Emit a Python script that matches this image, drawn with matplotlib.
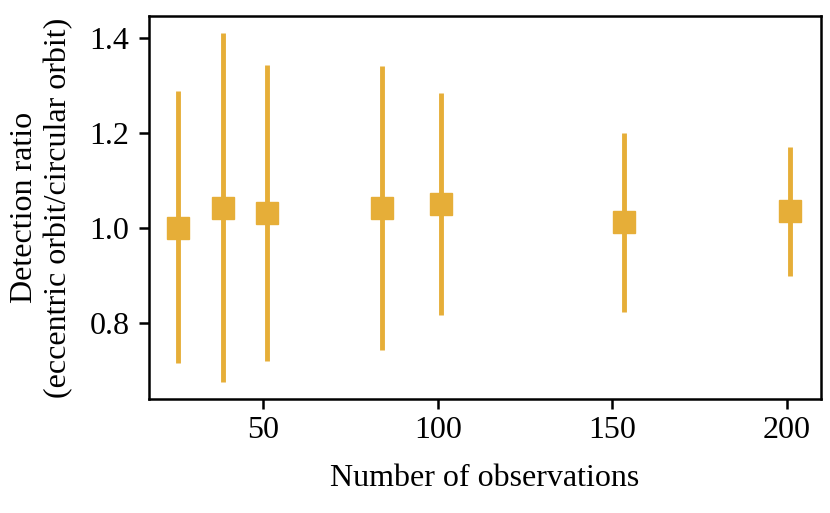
import matplotlib
matplotlib.use("Agg")
import matplotlib.pyplot as plt
import numpy as np

# values
n_obs = [25.5, 38.3, 51.1, 84, 101, 153.5, 201]
ratio = [1.000, 1.042, 1.031, 1.041, 1.049, 1.012, 1.035]
upper = [1.288, 1.411, 1.343, 1.340, 1.283, 1.199, 1.169]
lower = [0.715, 0.675, 0.719, 0.743, 0.816, 0.823, 0.899]

plt.rcParams['font.family'] = 'serif'
plt.rcParams['font.serif'] = ['Liberation Serif', 'DejaVu Serif']
plt.rcParams['font.size'] = 23
plt.rcParams['mathtext.fontset'] = 'stix'

ratio = np.array(ratio)
yerr = np.array([ratio - np.array(lower), np.array(upper) - ratio])

fig, ax = plt.subplots(figsize=(8.3, 5.13), dpi=100)
ax.errorbar(n_obs, ratio, yerr=yerr, fmt='s', color='#e6ae38',
            markersize=16.5, elinewidth=3.5, capsize=0)

ax.set_xlim(17.2, 209.8)
ax.set_ylim(0.639, 1.446)
ax.set_xticks([50, 100, 150, 200])
ax.set_yticks([0.8, 1.0, 1.2, 1.4])
ax.set_yticklabels(['0.8', '1.0', '1.2', '1.4'])
ax.set_xlabel('Number of observations', labelpad=14)
ax.set_ylabel('Detection ratio\n(eccentric orbit/circular orbit)', labelpad=12)

for s in ax.spines.values():
    s.set_linewidth(1.8)
ax.tick_params(width=1.8, length=7)
ax.tick_params(axis='x', pad=5)
ax.tick_params(axis='y', pad=7)

plt.subplots_adjust(left=0.1795, right=0.989, top=0.969, bottom=0.222)
plt.savefig("out.png")
